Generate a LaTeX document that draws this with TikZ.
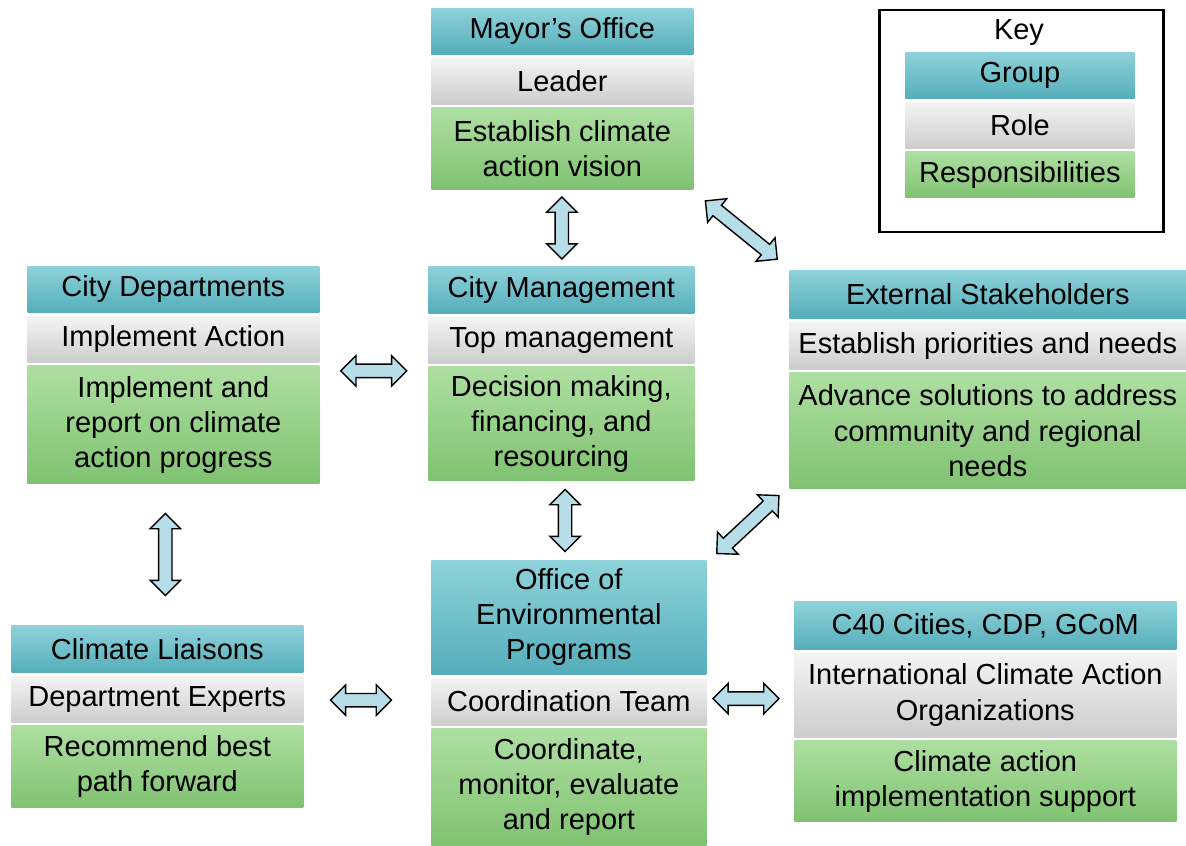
\documentclass[tikz,border=0pt]{standalone}
\usepackage{fontspec}
\setmainfont{Liberation Sans}
\usetikzlibrary{positioning,calc,shapes.arrows}
\definecolor{grptop}{HTML}{8ED2DA}
\definecolor{grpmid}{HTML}{66BCC7}
\definecolor{grpbot}{HTML}{55AEBA}
\definecolor{roltop}{HTML}{F4F4F4}
\definecolor{rolmid}{HTML}{DEDEDE}
\definecolor{rolbot}{HTML}{CDCDCD}
\definecolor{rsptop}{HTML}{AEDFA2}
\definecolor{rspmid}{HTML}{92D083}
\definecolor{rspbot}{HTML}{80C271}
\definecolor{arrcol}{HTML}{B7DEE8}

\begin{document}
\begin{tikzpicture}[x=0.02cm, y=0.02cm,
    font=\fontsize{16.5}{20}\selectfont,
    band/.style={inner sep=1pt, align=center, text=black},
    grp/.style={band, top color=grptop, middle color=grpmid, bottom color=grpbot},
    rol/.style={band, top color=roltop, middle color=rolmid, bottom color=rolbot},
    rsp/.style={band, top color=rsptop, middle color=rspmid, bottom color=rspbot},
    dblarr/.style={double arrow, draw=black, line width=0.8pt, fill=arrcol,
      inner xsep=0pt, inner ysep=0.12cm, double arrow head extend=0.17cm,
      minimum height=#1}]
  \useasboundingbox (0,0) rectangle (1186,-845);

  % key
  \draw[line width=1.7pt] (879,-10) rectangle (1163,-232);
  \node (key) at (1019,-33) {Key};
  \node[grp, anchor=north west, minimum width=4.58cm, minimum height=0.92cm] (key-g) at (905,-52) {Group};
  \node[rol, minimum width=4.58cm, minimum height=0.92cm, below=0.06cm of key-g] (key-r) {Role};
  \node[rsp, minimum width=4.58cm, minimum height=0.92cm, below=0.06cm of key-r] (key-x) {Responsibilities};

  % mayor's office
  \node[grp, anchor=north west, minimum width=5.24cm, minimum height=0.92cm] (mayor) at (431,-8) {Mayor’s Office};
  \node[rol, minimum width=5.24cm, minimum height=0.92cm, below=0.06cm of mayor] (mayor-r) {Leader};
  \node[rsp, minimum width=5.24cm, minimum height=1.64cm, below=0.06cm of mayor-r] (mayor-x) {Establish climate\\action vision};

  % city departments
  \node[grp, anchor=north west, minimum width=5.84cm, minimum height=0.92cm] (dept) at (27,-266) {City Departments};
  \node[rol, minimum width=5.84cm, minimum height=0.92cm, below=0.06cm of dept] (dept-r) {Implement Action};
  \node[rsp, minimum width=5.84cm, minimum height=2.36cm, below=0.06cm of dept-r] (dept-x) {Implement and\\report on climate\\action progress};

  % city management
  \node[grp, anchor=north west, minimum width=5.32cm, minimum height=0.94cm] (mgmt) at (428,-266) {City Management};
  \node[rol, minimum width=5.32cm, minimum height=0.92cm, below=0.06cm of mgmt] (mgmt-r) {Top management};
  \node[rsp, minimum width=5.32cm, minimum height=2.28cm, below=0.06cm of mgmt-r] (mgmt-x) {Decision making,\\financing, and\\resourcing};

  % external stakeholders
  \node[grp, anchor=north west, minimum width=7.94cm, minimum height=0.96cm] (ext) at (789,-270) {External Stakeholders};
  \node[rol, minimum width=7.94cm, minimum height=0.94cm, below=0.06cm of ext] (ext-r) {Establish priorities and needs};
  \node[rsp, minimum width=7.94cm, minimum height=2.32cm, below=0.06cm of ext-r] (ext-x) {Advance solutions to address\\community and regional\\needs};

  % climate liaisons
  \node[grp, anchor=north west, minimum width=5.84cm, minimum height=0.94cm] (liais) at (11,-625) {Climate Liaisons};
  \node[rol, minimum width=5.84cm, minimum height=0.92cm, below=0.06cm of liais] (liais-r) {Department Experts};
  \node[rsp, minimum width=5.84cm, minimum height=1.64cm, below=0.06cm of liais-r] (liais-x) {Recommend best\\path forward};

  % office of environmental programs
  \node[grp, anchor=north west, minimum width=5.5cm, minimum height=2.28cm] (oep) at (431,-560) {Office of\\Environmental\\Programs};
  \node[rol, minimum width=5.5cm, minimum height=0.94cm, below=0.06cm of oep] (oep-r) {Coordination Team};
  \node[rsp, minimum width=5.5cm, minimum height=2.34cm, below=0.06cm of oep-r] (oep-x) {Coordinate,\\monitor, evaluate\\and report};

  % c40 etc.
  \node[grp, anchor=north west, minimum width=7.64cm, minimum height=0.96cm] (c40) at (794,-601) {C40 Cities, CDP, GCoM};
  \node[rol, minimum width=7.64cm, minimum height=1.68cm, below=0.06cm of c40] (c40-r) {International Climate Action\\Organizations};
  \node[rsp, minimum width=7.64cm, minimum height=1.62cm, below=0.06cm of c40-r] (c40-x) {Climate action\\implementation support};

  % links
  \node[dblarr=1.24cm, rotate=90] (l1) at ($(mayor-x.south)!0.5!(mgmt.north)$) {};
  \node[dblarr=1.32cm] (l2) at ($(dept-x.north east)!0.5!(mgmt-x.north west)+(0,-0.1cm)$) {};
  \node[dblarr=1.64cm, rotate=90] (l3) at ($(dept-x.south)!0.5!(liais.north)$) {};
  \node[dblarr=1.24cm, rotate=90] (l4) at ($(mgmt-x.south)!0.5!(oep.north)$) {};
  \node[dblarr=1.22cm] (l5) at ($(liais-r.east)!0.45!(oep-r.west)$) {};
  \node[dblarr=1.32cm] (l6) at ($(oep-r.east)!0.45!(c40-r.west)$) {};
  \node[dblarr=1.85cm, rotate=-39] (l7) at ($(mayor-x.south east)!0.5!(ext.north west)$) {};
  \node[dblarr=1.7cm, rotate=43] (l8) at ($(oep.north east)!0.5!(ext-x.south west)$) {};
\end{tikzpicture}
\end{document}
